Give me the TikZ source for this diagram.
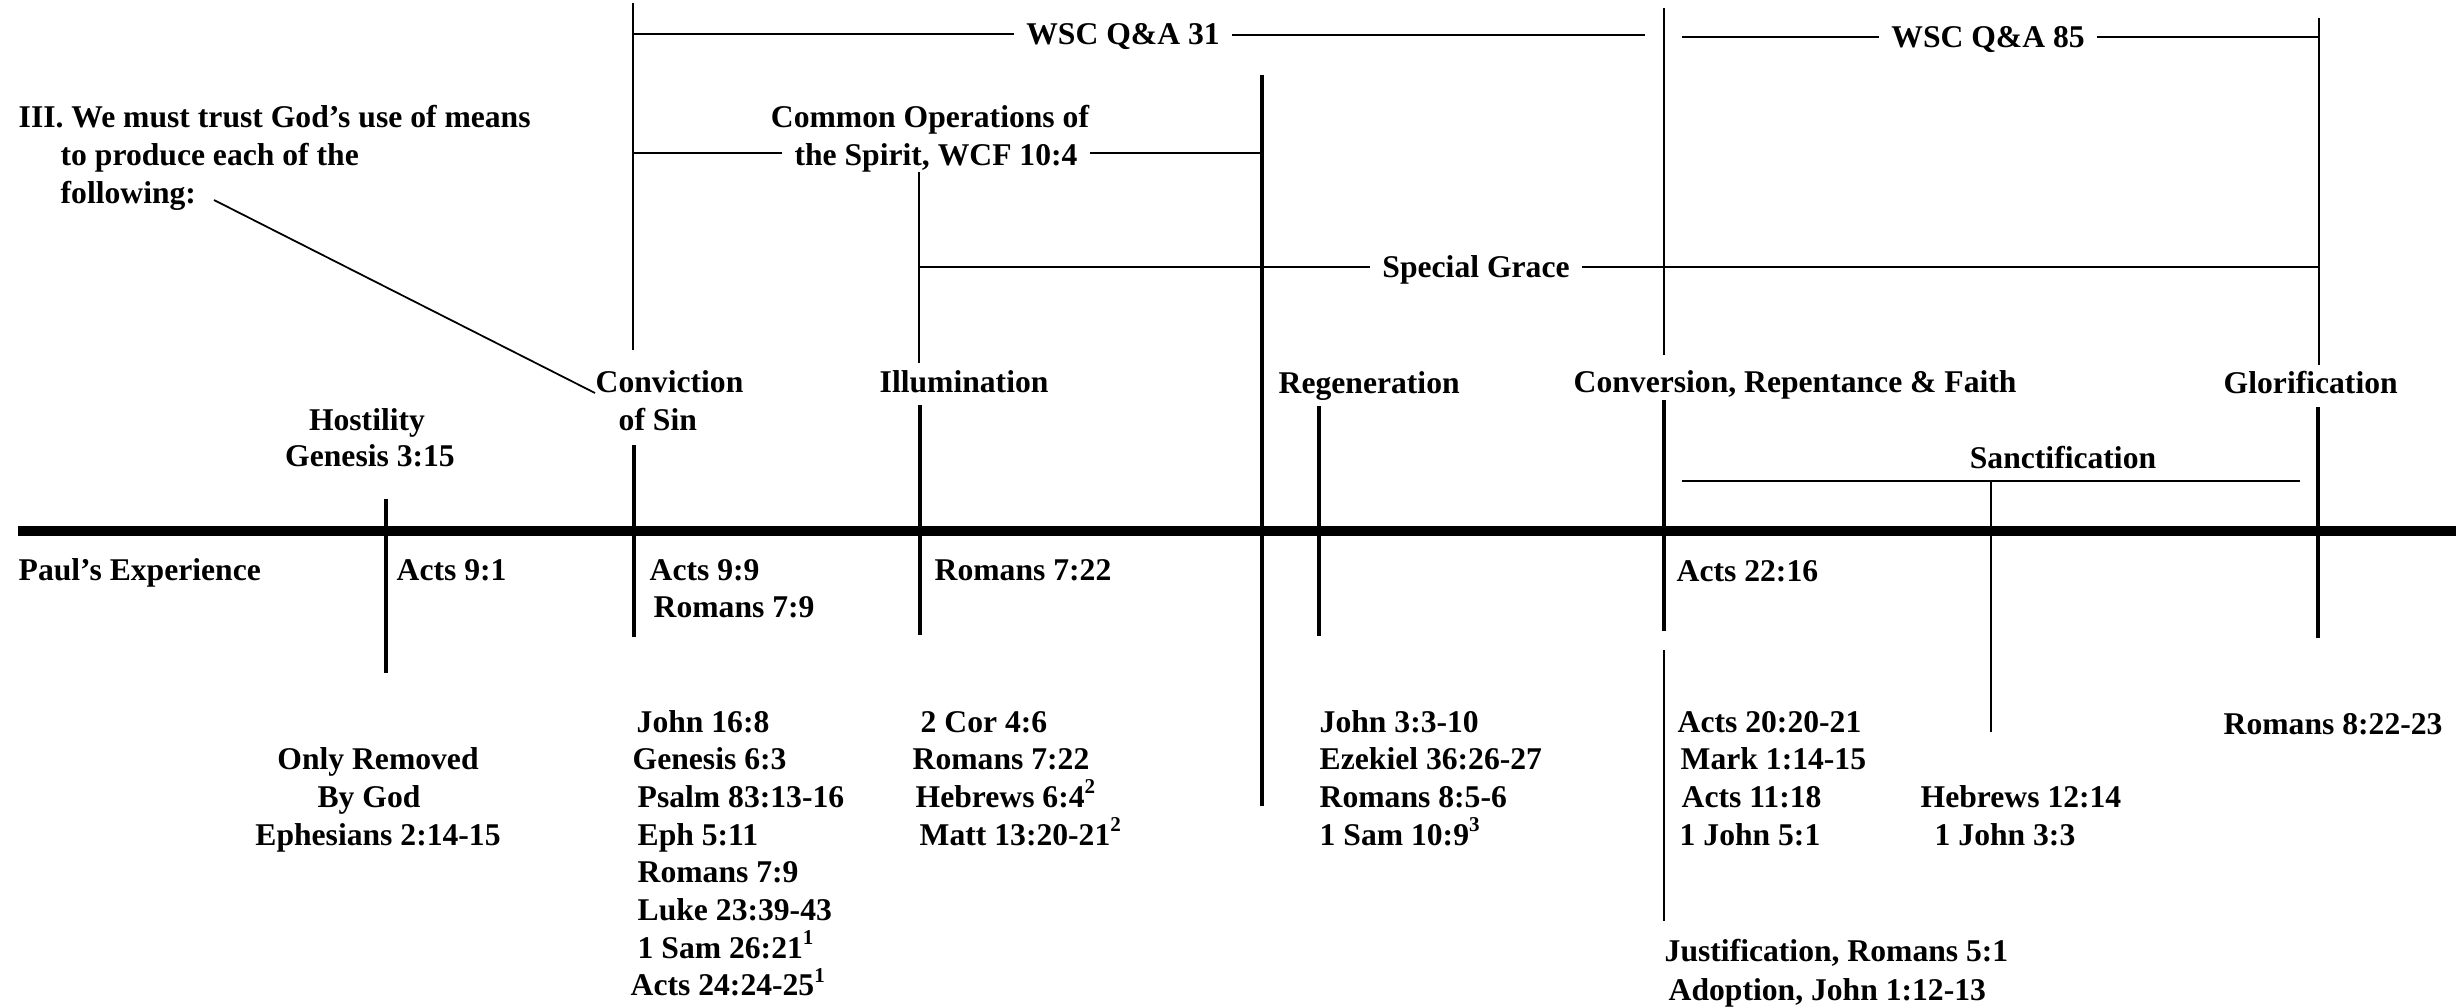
\documentclass[tikz,border=0pt]{standalone}
\usepackage{fontspec}
\setmainfont{Liberation Serif}
\begin{document}
\begin{tikzpicture}[x=0.1mm,y=-0.1mm,
  lbl/.style={font=\fontsize{9pt}{10.6pt}\selectfont\bfseries, inner sep=0pt, anchor=base west},
  clbl/.style={lbl, anchor=base},
  gap/.style={inner xsep=1.2mm},
  thinline/.style={line width=0.5pt},
  thickline/.style={line width=1.2pt},
  axisline/.style={line width=2.9pt},
  brk/.style={line width=0.75pt}]
\useasboundingbox[fill=white] (0,0) rectangle (2464,1006);

% ---------- upper labels ----------
\node[lbl] (t1) at (18,127) {III. We must trust God’s use of means};
\node[lbl] (t2) at (60,165) {to produce each of the};
\node[lbl] (t3) at (60,203) {following:};
\node[clbl] (co1) at (930,127) {Common Operations of};
\node[clbl,gap] (co2) at (936,165) {the Spirit, WCF 10:4};
\node[clbl,gap] (wsc31) at (1123,44) {WSC Q\&A 31};
\node[clbl,gap] (wsc85) at (1988,47) {WSC Q\&A 85};
\node[clbl,gap] (sg) at (1476,277) {Special Grace};

\node[lbl] (conv) at (595,392) {Conviction};
\node[lbl] (ofsin) at (618,430) {of Sin};
\node[clbl] (host) at (367,430) {Hostility};
\node[clbl] (gen) at (370,466) {Genesis 3:15};
\node[lbl] (illum) at (879,392) {Illumination};
\node[lbl] (regen) at (1278,393) {Regeneration};
\node[lbl] (crf) at (1573,392) {Conversion, Repentance \& Faith};
\node[lbl] (glor) at (2223,393) {Glorification};
\node[clbl] (sanct) at (2063,468) {Sanctification};

% ---------- Paul's experience row ----------
\node[lbl] (paul) at (18,580) {Paul’s Experience};
\node[lbl] (a91) at (396,580) {Acts 9:1};
\node[lbl] (a99) at (649,580) {Acts 9:9};
\node[lbl] (r79a) at (653,617) {Romans 7:9};
\node[lbl] (r722a) at (934,580) {Romans 7:22};
\node[lbl] (a2216) at (1676,581) {Acts 22:16};

% ---------- lower lists ----------
\node[clbl] (only) at (378,769) {Only Removed};
\node[clbl] (bygod) at (369,807) {By God};
\node[clbl] (eph) at (378,845) {Ephesians 2:14-15};

\foreach \t/\dx [count=\i from 0] in {John 16:8/6, Genesis 6:3/2, Psalm 83:13-16/7, Eph 5:11/7, Romans 7:9/7, Luke 23:39-43/7, 1 Sam 26:21\textsuperscript{1}/7, Acts 24:24-25\textsuperscript{1}/0}
  \node[lbl] (cv\i) at (630+\dx,732+37.7*\i) {\t};

\foreach \t/\dx [count=\i from 0] in {2 Cor 4:6/8, Romans 7:22/0, Hebrews 6:4\textsuperscript{2}/3, Matt 13:20-21\textsuperscript{2}/7}
  \node[lbl] (il\i) at (912+\dx,732+37.7*\i) {\t};

\foreach \t [count=\i from 0] in {John 3:3-10, Ezekiel 36:26-27, Romans 8:5-6, 1 Sam 10:9\textsuperscript{3}}
  \node[lbl] (rg\i) at (1319,732+37.7*\i) {\t};

\foreach \t/\dx [count=\i from 0] in {Acts 20:20-21/0, Mark 1:14-15/3, Acts 11:18/4, 1 John 5:1/2}
  \node[lbl] (cr\i) at (1677+\dx,732+37.7*\i) {\t};

\node[lbl] (h1214) at (1920,807) {Hebrews 12:14};
\node[lbl] (j33) at (1934,845) {1 John 3:3};
\node[lbl] (r822) at (2223,734) {Romans 8:22-23};
\node[lbl] (just) at (1664,961) {Justification, Romans 5:1};
\node[lbl] (adopt) at (1668,1000) {Adoption, John 1:12-13};

% ---------- coordinates ----------
\coordinate (axL) at (18,531);
\coordinate (axR) at (2456,531);

\coordinate (hostT) at (386,499);   \coordinate (hostB) at (386,673);
\coordinate (convTop) at (633,3);   \coordinate (convTopB) at (633,350);
\coordinate (convT) at (634,445);   \coordinate (convB) at (634,637);
\coordinate (illTop) at (919,172);  \coordinate (illTopB) at (919,363);
\coordinate (illT) at (920,405);    \coordinate (illB) at (920,635);
\coordinate (regL) at (1262,75);    \coordinate (regLB) at (1262,806);
\coordinate (regT) at (1319,406);   \coordinate (regB) at (1319,636);
\coordinate (crTop) at (1664,8);    \coordinate (crTopB) at (1664,355);
\coordinate (crT) at (1664,400);    \coordinate (crB) at (1664,631);
\coordinate (crLow) at (1664,650);  \coordinate (crLowB) at (1664,921);
\coordinate (glTop) at (2319,18);   \coordinate (glTopB) at (2319,365);
\coordinate (glT) at (2318,407);    \coordinate (glB) at (2318,638);

\coordinate (w31a) at (633,34);   \coordinate (w31b) at (1645,35);
\coordinate (w85a) at (1682,37);  \coordinate (w85b) at (2319,37);
\coordinate (coa) at (633,153);   \coordinate (cob) at (1262,153);
\coordinate (sga) at (919,267);   \coordinate (sgb) at (2319,267);
\coordinate (sna) at (1682,481);  \coordinate (snb) at (2300,481);
\coordinate (snd) at (1991,481);  \coordinate (sndB) at (1991,732);
\coordinate (diagA) at (214,200); \coordinate (diagB) at (595,393);

% ---------- lines ----------
\draw[axisline] (axL) -- (axR);

\draw[thickline] (hostT) -- (hostB);
\draw[thinline] (convTop) -- (convTopB);
\draw[thickline] (convT) -- (convB);
\draw[thinline] (illTop) -- (illTopB);
\draw[thickline] (illT) -- (illB);
\draw[thickline] (regL) -- (regLB);
\draw[thickline] (regT) -- (regB);
\draw[thinline] (crTop) -- (crTopB);
\draw[thickline] (crT) -- (crB);
\draw[thinline] (crLow) -- (crLowB);
\draw[thinline] (glTop) -- (glTopB);
\draw[thickline] (glT) -- (glB);

\draw[brk] (w31a) -- (w31a -| wsc31.west);
\draw[brk] (w31b -| wsc31.east) -- (w31b);
\draw[brk] (w85a) -- (w85a -| wsc85.west);
\draw[brk] (w85b -| wsc85.east) -- (w85b);
\draw[brk] (coa) -- (coa -| co2.west);
\draw[brk] (cob -| co2.east) -- (cob);
\draw[brk] (sga) -- (sga -| sg.west);
\draw[brk] (sgb -| sg.east) -- (sgb);
\draw[brk] (sna) -- (snb);
\draw[thinline] (snd) -- (sndB);
\draw[thinline] (diagA) -- (diagB);
\end{tikzpicture}
\end{document}
